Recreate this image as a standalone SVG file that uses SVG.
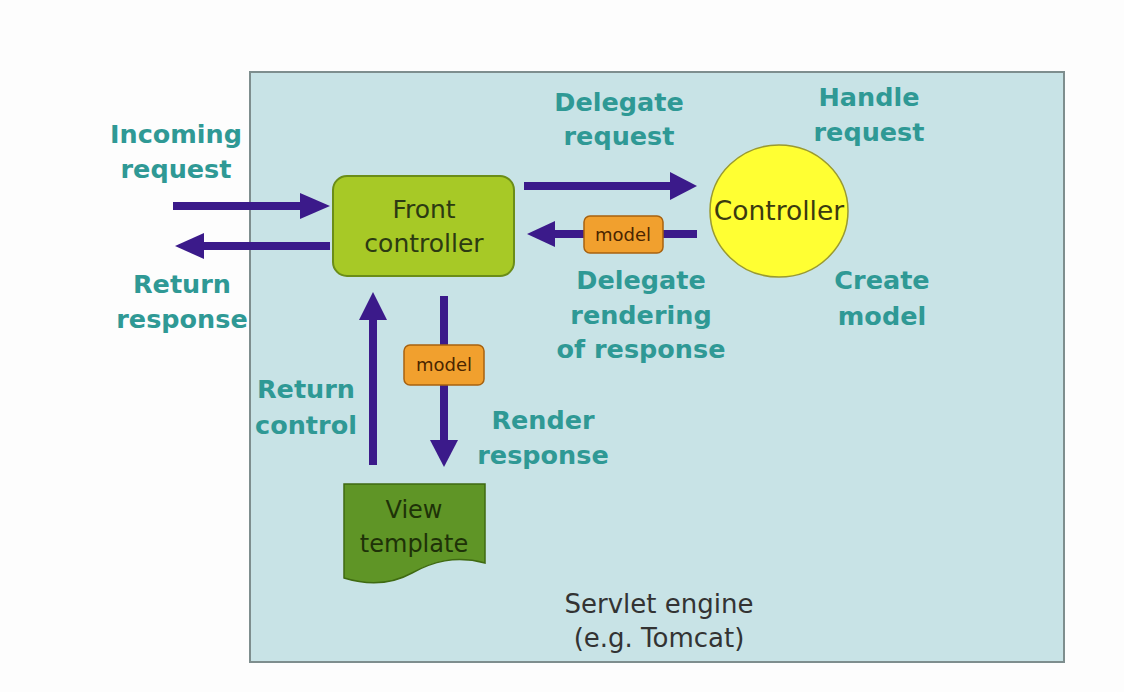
<svg xmlns="http://www.w3.org/2000/svg" width="1124" height="692" viewBox="0 0 1124 692">
<defs>
<style>
.lbl{font-family:"DejaVu Sans",sans-serif;font-weight:bold;font-size:25.5px;fill:#2f9995;text-anchor:middle}
.inner{font-family:"DejaVu Sans",sans-serif;font-size:24px;fill:#2c3a12;text-anchor:middle}
.model{font-family:"DejaVu Sans",sans-serif;font-size:18px;fill:#4a2500;text-anchor:middle}
.shaft{stroke:#3b1a8a;stroke-width:8;fill:none}
.head{fill:#3b1a8a}
.mbox{fill:#f1a02e;stroke:#a8620f;stroke-width:1.5}
</style>
</defs>
<rect x="0" y="0" width="1124" height="692" fill="#fdfdfd"/>
<g id="servlet-engine">
<rect x="250" y="72" width="814" height="590" fill="#c8e3e6" stroke="#7e8e8e" stroke-width="2"/>
<text class="inner" x="659" y="613" style="fill:#333;font-size:26px">Servlet engine</text>
<text class="inner" x="659" y="647" style="fill:#333;font-size:26px">(e.g. Tomcat)</text>
</g>
<g id="connectors">
<line class="shaft" x1="173" y1="206" x2="302" y2="206"/>
<polygon class="head" points="300,193 330,206 300,219"/>
<line class="shaft" x1="330" y1="246" x2="201" y2="246"/>
<polygon class="head" points="204,233 175,246 204,259"/>
<line class="shaft" x1="524" y1="186" x2="672" y2="186"/>
<polygon class="head" points="670,172 697,186 670,200"/>
<line class="shaft" x1="697" y1="234" x2="553" y2="234"/>
<polygon class="head" points="555,221 527,234 555,247"/>
<line class="shaft" x1="444" y1="296" x2="444" y2="442"/>
<polygon class="head" points="430,440 444,467 458,440"/>
<line class="shaft" x1="373" y1="465" x2="373" y2="318"/>
<polygon class="head" points="359,320 373,292 387,320"/>
</g>
<g id="model-1">
<rect class="mbox" x="584" y="216" width="79" height="37" rx="6"/>
<text class="model" x="623" y="241">model</text>
</g>
<g id="model-2">
<rect class="mbox" x="404" y="345" width="80" height="40" rx="6"/>
<text class="model" x="444" y="371">model</text>
</g>
<g id="front-controller">
<rect x="333" y="176" width="181" height="100" rx="14" fill="#a7c926" stroke="#6b8d18" stroke-width="2"/>
<text class="inner" x="424" y="218" style="font-size:25px">Front</text>
<text class="inner" x="424" y="252" style="font-size:25px">controller</text>
</g>
<g id="controller">
<ellipse cx="779" cy="211" rx="69" ry="66" fill="#ffff33" stroke="#9a9a30" stroke-width="1.5"/>
<text class="inner" x="779" y="220" style="font-size:26.5px;fill:#3a3a10">Controller</text>
</g>
<g id="view-template">
<path d="M344,484 H485 V563 C455,555 432,562 412,573 C392,584 370,586 344,578 Z" fill="#5f9526" stroke="#3f6a12" stroke-width="1.5"/>
<text class="inner" x="414" y="518" style="fill:#1e3208">View</text>
<text class="inner" x="414" y="552" style="fill:#1e3208">template</text>
</g>
<g id="labels">
<text class="lbl" x="176" y="143">Incoming</text>
<text class="lbl" x="176" y="178">request</text>
<text class="lbl" x="182" y="293">Return</text>
<text class="lbl" x="182" y="328">response</text>
<text class="lbl" x="619" y="111">Delegate</text>
<text class="lbl" x="619" y="145">request</text>
<text class="lbl" x="869" y="106">Handle</text>
<text class="lbl" x="869" y="141">request</text>
<text class="lbl" x="641" y="289">Delegate</text>
<text class="lbl" x="641" y="324">rendering</text>
<text class="lbl" x="641" y="358">of response</text>
<text class="lbl" x="882" y="289">Create</text>
<text class="lbl" x="882" y="325">model</text>
<text class="lbl" x="306" y="398">Return</text>
<text class="lbl" x="306" y="434">control</text>
<text class="lbl" x="543" y="429">Render</text>
<text class="lbl" x="543" y="464">response</text>
</g>
</svg>
